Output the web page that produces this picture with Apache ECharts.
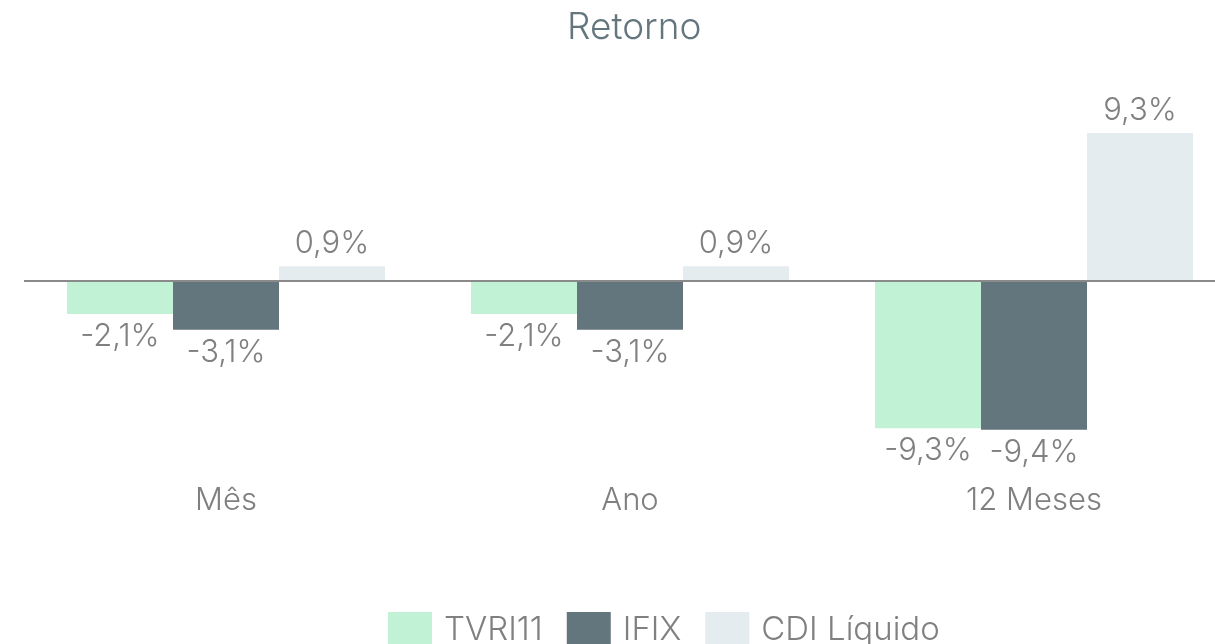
<!DOCTYPE html>
<html>
<head>
<meta charset="utf-8">
<script src="https://cdn.jsdelivr.net/npm/echarts@6/dist/echarts.min.js"></script>
<style>
html,body{margin:0;padding:0;background:#fff;}
#chart{width:1215px;height:644px;}
</style>
</head>
<body>
<div id="chart"></div>
<script>
const categories = ['Mês', 'Ano', '12 Meses'];
const seriesNames = ['TVRI11', 'IFIX', 'CDI Líquido'];
const tvri11 = [-2.1, -2.1, -9.3];
const ifix = [-3.1, -3.1, -9.4];
const cdi = [0.9, 0.9, 9.3];
const colors = ['#c2f2d6', '#63767e', '#e4ecef'];

const FONT = 'Inter';
const labelColor = '#808080';

function fmt(v) {
  return v.toFixed(1).replace('.', ',') + '%';
}

function makeSeries(name, data, color, idx) {
  const s = {
    name: name,
    type: 'bar',
    data: data,
    barWidth: 106,
    barGap: '0%',
    itemStyle: { color: color },
    label: {
      show: true,
      position: 'outside',
      formatter: p => fmt(p.value),
      color: labelColor,
      fontFamily: FONT,
      fontWeight: 300,
      fontSize: 31,
      distance: 7
    }
  };
  if (idx === 0) {
    s.markLine = {
      silent: true,
      symbol: 'none',
      label: { show: false },
      lineStyle: { color: '#8a8a8a', width: 2, type: 'solid' },
      data: [{ yAxis: 0 }],
      z: 10
    };
  }
  return s;
}

const chart = echarts.init(document.getElementById('chart'), null, { renderer: 'canvas' });
const dataSets = [tvri11, ifix, cdi];
chart.setOption({
  animation: false,
  title: {
    text: 'Retorno',
    left: 562,
    top: 4,
    textStyle: { color: '#63767e', fontFamily: FONT, fontWeight: 300, fontSize: 37 }
  },
  legend: {
    bottom: -9,
    left: 383,
    itemWidth: 44,
    itemHeight: 36,
    itemGap: 24,
    icon: 'rect',
    textStyle: { color: labelColor, fontFamily: FONT, fontWeight: 300, fontSize: 33, padding: [0, 0, 0, 7] },
    data: seriesNames
  },
  grid: { left: 24, top: 122, right: -21, height: 349, outerBoundsMode: 'none' },
  xAxis: {
    type: 'category',
    data: categories,
    axisLine: { show: false },
    axisTick: { show: false },
    axisLabel: { color: labelColor, fontFamily: FONT, fontWeight: 300, fontSize: 31, margin: 14 }
  },
  yAxis: {
    type: 'value',
    min: -12,
    max: 10,
    show: false,
    splitLine: { show: false }
  },
  series: seriesNames.map((n, i) => makeSeries(n, dataSets[i], colors[i], i))
});
</script>
</body>
</html>
